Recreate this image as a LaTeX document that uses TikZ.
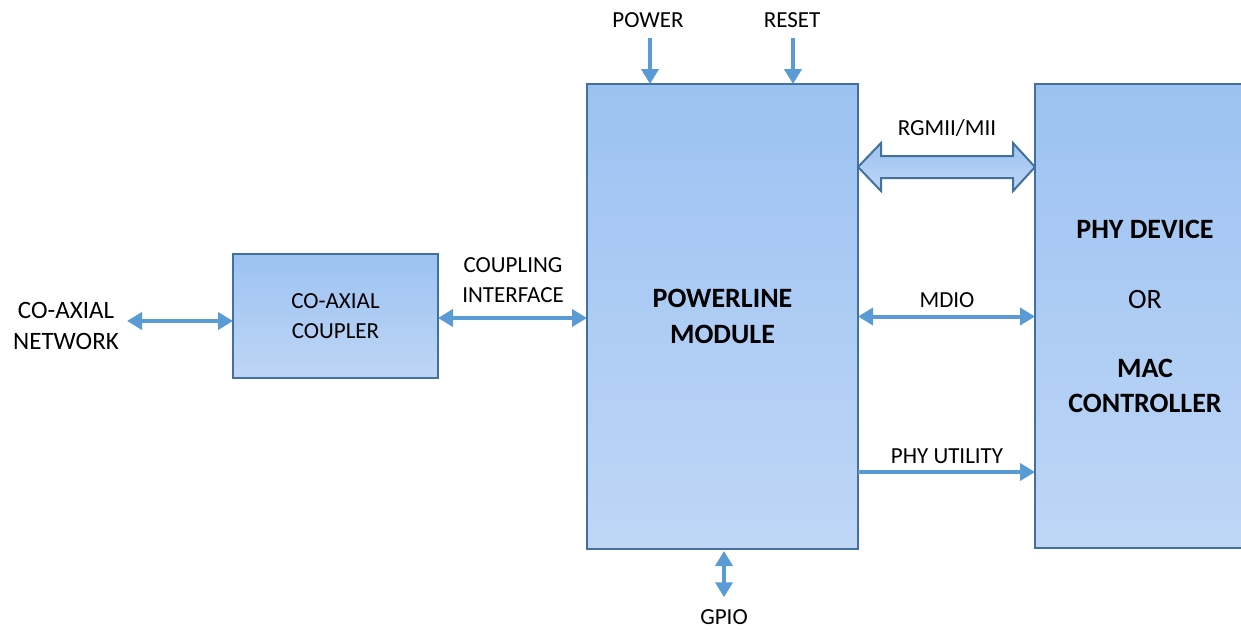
\documentclass[tikz,border=0pt]{standalone}
\usepackage{fontspec}
\setmainfont{Carlito}
\usetikzlibrary{arrows.meta,calc}
\definecolor{boxline}{HTML}{41719C}
\definecolor{boxtop}{HTML}{9CC2F2}
\definecolor{boxbot}{HTML}{BFD6F6}
\definecolor{arrc}{HTML}{5B9BD5}
\tikzset{
  blk/.style={draw=boxline, line width=2.5pt, top color=boxtop, bottom color=boxbot,
    anchor=north west, inner sep=0pt, outer sep=0pt, align=center},
  lbl/.style={inner sep=0pt, align=center, font=\fontsize{23}{30}\selectfont},
  arr/.style={draw=arrc, line width=4pt},
  arrboth/.style={arr, {Triangle[length=15pt,width=17pt]}-{Triangle[length=15pt,width=17pt]}},
  arrone/.style={arr, -{Triangle[length=15pt,width=17pt]}},
}
\begin{document}
\begin{tikzpicture}[x=1pt,y=-1pt]
\useasboundingbox (0,0) rectangle (1241,629);
\clip (0,0) rectangle (1241,629);
% blocks
\node[blk, minimum width=205pt, minimum height=124pt, font=\fontsize{23}{30}\selectfont] (cc) at (233,254) {CO-AXIAL\\COUPLER};
\node[blk, minimum width=271pt, minimum height=465pt, font=\fontsize{28}{36}\selectfont\bfseries] (pm) at (587,84) {POWERLINE\\MODULE};
\node[blk, minimum width=220pt, minimum height=464pt, font=\fontsize{28}{35}\selectfont] (phy) at (1035,84)
  {\textbf{PHY DEVICE}\\[35pt]OR\\[34pt]\textbf{MAC}\\\textbf{CONTROLLER}};
% labels
\node[lbl, font=\fontsize{25}{31}\selectfont] (net) at (66,326) {CO-AXIAL\\NETWORK};
\node[lbl] (cpl) at (513,280) {COUPLING\\INTERFACE};
\node[lbl] (pw) at (648,20) {POWER};
\node[lbl] (rs) at (792,20) {RESET};
\node[lbl] (gp) at (724,617) {GPIO};
\node[lbl] (rg) at (947,128) {RGMII/MII};
\node[lbl] (md) at (947,300) {MDIO};
\node[lbl] (pu) at (947,456) {PHY UTILITY};
% connectors
\draw[arrboth] ([xshift=8pt,yshift=5pt]net.east) -- ([yshift=-5pt]cc.west);
\draw[arrboth] ([yshift=-2pt]cc.east) -- ([yshift=-2pt]cc.east -| pm.west);
\draw[arrboth] (pm.east) -- (pm.east -| phy.west);
\draw[arrone] ([yshift=-155.5pt]pm.east) -- ([yshift=-155.5pt]pm.east -| phy.west);
\draw[arrone] ([xshift=2pt,yshift=-10pt]pw.south) -- ([xshift=2pt]pw.south |- pm.north);
\draw[arrone] ([xshift=1pt,yshift=-10pt]rs.south) -- ([xshift=1pt]rs.south |- pm.north);
\draw[arrboth] ([xshift=1.5pt,yshift=-2pt]pm.south) -- ([xshift=1.5pt,yshift=12pt]pm.south |- gp.north);
% wide bus arrow
\draw[draw=boxline, line width=2pt, top color=boxtop, bottom color=boxbot]
  ([yshift=149.5pt]pm.east)
  -- ++(23,-24) -- ++(0,13) -- ++(132,0) -- ++(0,-13)
  -- ([yshift=149.5pt]pm.east -| phy.west)
  -- ++(-22,24) -- ++(0,-13) -- ++(-132,0) -- ++(0,13) -- cycle;
\end{tikzpicture}
\end{document}
